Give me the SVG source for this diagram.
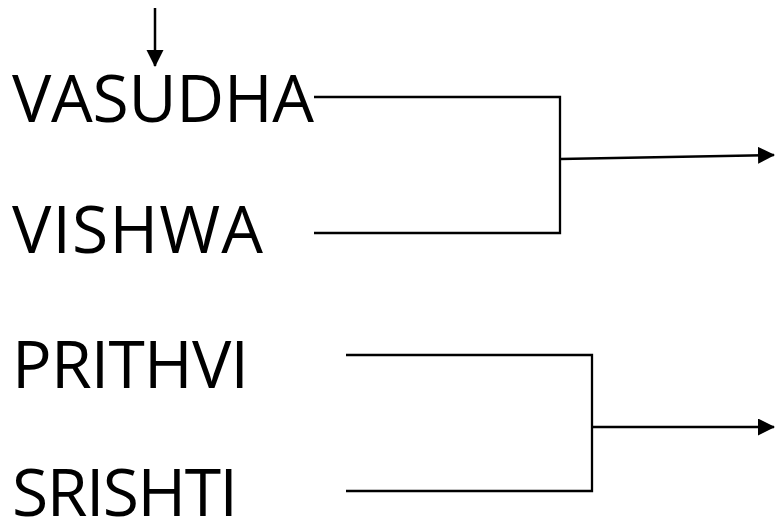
<svg xmlns="http://www.w3.org/2000/svg" width="781" height="521" viewBox="0 0 781 521">
<style>
.lbl{font-family:"Open Sans","Liberation Sans",sans-serif;font-size:66px;fill:#000}
.ln{stroke:#000;stroke-width:2.3;fill:none}
.ar{stroke:#000;stroke-width:2.5;fill:none}
</style>
<defs>
<marker id="ah" markerWidth="18" markerHeight="18" refX="16" refY="8.5" orient="auto" markerUnits="userSpaceOnUse">
<path d="M0,0 L17,8.5 L0,17 Z" fill="#000"/>
</marker>
</defs>
<rect width="781" height="521" fill="#fff"/>
<g id="vasudha"><text class="lbl" x="12" y="122" textLength="302">VASUDHA</text></g>
<g id="vishwa"><text class="lbl" x="12" y="253" textLength="251">VISHWA</text></g>
<g id="prithvi"><text class="lbl" x="12" y="388" textLength="237">PRITHVI</text></g>
<g id="srishti"><text class="lbl" x="12" y="516" textLength="226">SRISHTI</text></g>
<g id="connectors">
<line class="ar" x1="155" y1="8" x2="155" y2="66" marker-end="url(#ah)"/>
<polyline class="ln" points="314,97 560,97 560,233 314,233"/>
<line class="ar" x1="560" y1="159" x2="774" y2="155" marker-end="url(#ah)"/>
<polyline class="ln" points="346,355 592,355 592,491 346,491"/>
<line class="ar" x1="592" y1="427" x2="774" y2="427" marker-end="url(#ah)"/>
</g>
</svg>
